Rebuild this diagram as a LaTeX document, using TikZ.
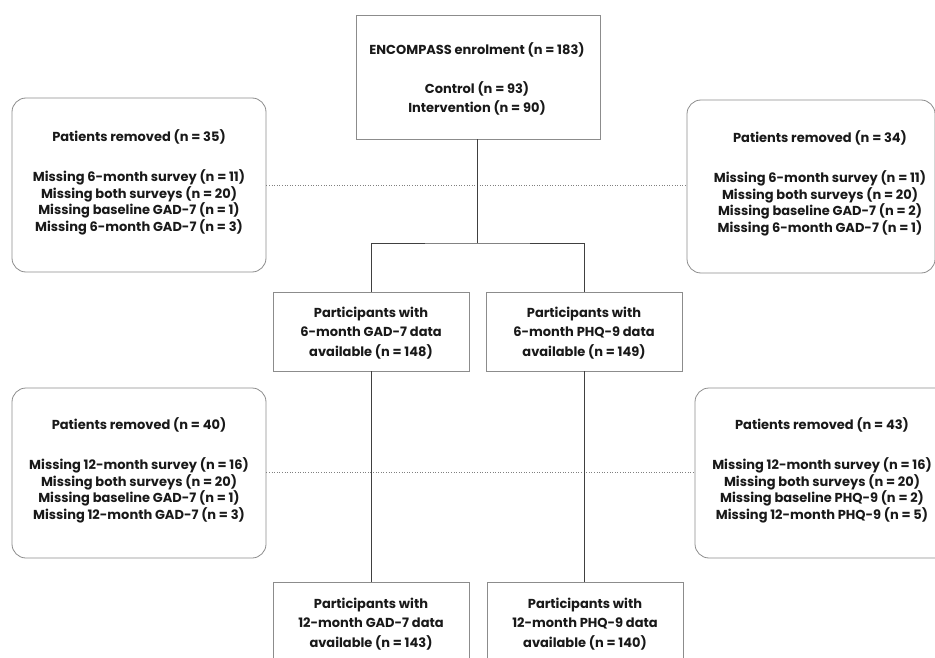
\documentclass[tikz,border=0pt]{standalone}
\usepackage{fontspec}
\setmainfont{Poppins}
\begin{document}
\begin{tikzpicture}[x=1pt,y=-1pt,
  box/.style={draw=black!45, line width=0.8pt, inner sep=0pt},
  rbox/.style={box, rounded corners=14pt},
  txt/.style={font=\bfseries\fontsize{13}{19.5}\selectfont, align=center, inner sep=0pt, text=black!90},
  rtxt/.style={font=\bfseries\fontsize{13}{16.8}\selectfont, align=center, inner sep=0pt, text=black!90},
  conn/.style={draw=black!75, line width=0.8pt},
  dots/.style={draw=black!50, line width=0.6pt, dotted}]
\useasboundingbox (0,0) rectangle (935,658);
\clip (0,0) rectangle (935,658);
% top box
\node[box, minimum width=244pt, minimum height=124pt] (top) at (478,77) {};
\node[txt] (toptxt) at (477,79) {ENCOMPASS enrolment (n = 183)\\[19pt]Control (n = 93)\\Intervention (n = 90)};
% removal boxes upper
\node[rbox, minimum width=254pt, minimum height=174pt] (r1) at (139,185) {};
\node[rtxt] (r1t) at (139,182.5) {Patients removed (n = 35)\\[23pt]Missing 6-month survey (n = 11)\\Missing both surveys (n = 20)\\Missing baseline GAD-7 (n = 1)\\Missing 6-month GAD-7 (n = 3)};
\node[rbox, minimum width=248pt, minimum height=173pt] (r2) at (811,186.5) {};
\node[rtxt] (r2t) at (820,183.5) {Patients removed (n = 34)\\[23pt]Missing 6-month survey (n = 11)\\Missing both surveys (n = 20)\\Missing baseline GAD-7 (n = 2)\\Missing 6-month GAD-7 (n = 1)};
% mid boxes
\node[box, minimum width=196pt, minimum height=79pt] (m1) at (371,331.5) {};
\node[txt] (m1t) at (371,333) {Participants with\\6-month GAD-7 data\\available (n = 148)};
\node[box, minimum width=196pt, minimum height=79pt] (m2) at (584,331.5) {};
\node[txt] (m2t) at (584,333) {Participants with\\6-month PHQ-9 data\\available (n = 149)};
% removal boxes lower
\node[rbox, minimum width=254pt, minimum height=170pt] (r3) at (139,473) {};
\node[rtxt] (r3t) at (139,470.5) {Patients removed (n = 40)\\[23pt]Missing 12-month survey (n = 16)\\Missing both surveys (n = 20)\\Missing baseline GAD-7 (n = 1)\\Missing 12-month GAD-7 (n = 3)};
\node[rbox, minimum width=270pt, minimum height=170pt] (r4) at (830,473) {};
\node[rtxt] (r4t) at (822,470.5) {Patients removed (n = 43)\\[23pt]Missing 12-month survey (n = 16)\\Missing both surveys (n = 20)\\Missing baseline PHQ-9 (n = 2)\\Missing 12-month PHQ-9 (n = 5)};
% bottom boxes
\node[box, minimum width=196pt, minimum height=100pt] (b1) at (371,632) {};
\node[txt] (b1t) at (371,624) {Participants with\\12-month GAD-7 data\\available (n = 143)};
\node[box, minimum width=196pt, minimum height=100pt] (b2) at (585,632) {};
\node[txt] (b2t) at (585,624) {Participants with\\12-month PHQ-9 data\\available (n = 140)};
% dotted lines
\draw[dots] (r1.east |- 0,185) -- (r2.west |- 0,185);
\draw[dots] (r3.east |- 0,472) -- (r4.west |- 0,472);
% connectors
\coordinate (j) at (477,243);
\draw[conn] (top.south -| j) -- (j);
\draw[conn] (m1.north) |- (j) -| (m2.north);
\draw[conn] (m1.south) -- (b1.north -| m1.south);
\draw[conn] (m2.south) -- (b2.north -| m2.south);
\end{tikzpicture}
\end{document}
